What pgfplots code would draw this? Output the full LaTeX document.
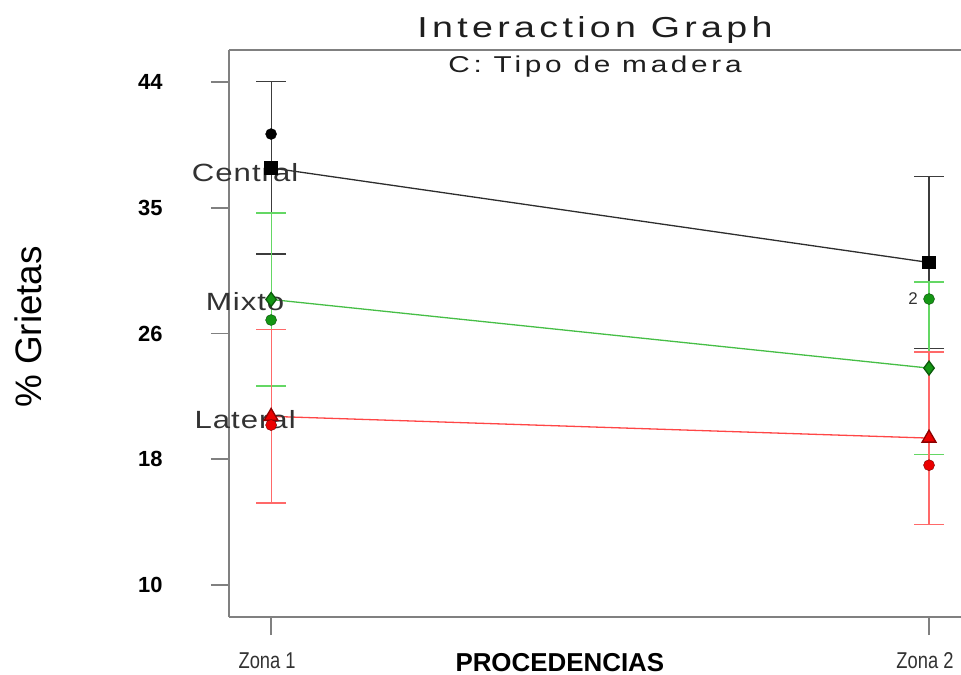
\documentclass[border=0pt]{standalone}
\usepackage{fontspec}
\setmainfont{Liberation Sans}
\newfontfamily\spacedfont[FakeStretch=1.25, LetterSpace=4]{Liberation Sans}
\newfontfamily\titlefont[FakeStretch=1.3, LetterSpace=15]{Liberation Sans}
\newfontfamily\subfont[FakeStretch=1.3, LetterSpace=16]{Liberation Sans}
\newfontfamily\narrowfont[FakeStretch=0.8]{Liberation Sans}
\usepackage{pgfplots}
\pgfplotsset{compat=1.18}

\definecolor{framegray}{RGB}{128,128,128}
\definecolor{cline}{RGB}{45,45,45}
\definecolor{cbar}{RGB}{60,60,60}
\definecolor{mline}{RGB}{70,190,70}
\definecolor{mbar}{RGB}{100,215,100}
\definecolor{mmark}{RGB}{20,150,20}
\definecolor{lline}{RGB}{255,70,70}
\definecolor{lbar}{RGB}{255,105,105}
\definecolor{lmark}{RGB}{235,0,0}
\definecolor{labgray}{RGB}{50,50,50}

% predicted means with LSD half-widths
\pgfplotstableread{
x y e
1 38.19 5.83
2 31.80 5.83
}\central
\pgfplotstableread{
x y e
1 29.30 5.85
2 24.66 5.83
}\mixto
\pgfplotstableread{
x y e
1 21.40 5.85
2 19.93 5.83
}\lateral

\begin{document}
\begin{tikzpicture}
\path[use as bounding box] (-229bp,-58bp) rectangle (732bp,617bp);
\begin{axis}[
  at={(0,0)}, anchor=south west,
  width=732bp, height=567bp, scale only axis,
  xmin=0.936, xmax=2.0486, ymin=7.84, ymax=46.16,
  clip=false,
  axis x line*=bottom, axis y line*=left,
  axis line style={framegray, line width=1.6bp},
  xtick={1,2}, xticklabels={Zona 1, Zona 2},
  ytick={10,18.5,27,35.5,44}, yticklabels={10,18,26,35,44},
  tick align=outside,
  major tick length=18bp,
  tick style={framegray, line width=1.6bp},
  /pgf/number format/assume math mode=true,
  yticklabel style={font=\fontsize{22}{24}\selectfont\bfseries, xshift=-45bp},
  xticklabel style={font=\narrowfont\fontsize{23}{25}\selectfont, text=labgray, yshift=-14bp, xshift=-4bp},
]
% error bars
\addplot[draw=none, forget plot, error bars/.cd, y dir=both, y explicit,
  error bar style={draw=cbar, line width=1.2bp},
  error mark options={draw=cbar, rotate=90, mark size=15bp, line width=1.4bp}]
  table[x=x, y=y, y error=e] {\central};
\addplot[draw=none, forget plot, error bars/.cd, y dir=both, y explicit,
  error bar style={draw=mbar, line width=1.2bp},
  error mark options={draw=mbar, rotate=90, mark size=15bp, line width=1.4bp}]
  table[x=x, y=y, y error=e] {\mixto};
\addplot[draw=none, forget plot, error bars/.cd, y dir=both, y explicit,
  error bar style={draw=lbar, line width=1.2bp},
  error mark options={draw=lbar, rotate=90, mark size=15bp, line width=1.4bp}]
  table[x=x, y=y, y error=e] {\lateral};

% interaction lines
\addplot[cline, line width=1.3bp, mark=square*, mark size=6bp,
  mark options={fill=black, draw=black}] table[x=x, y=y] {\central};
\addplot[mline, line width=1.3bp, mark=diamond*, mark size=7bp,
  mark options={fill=mmark, draw=mmark!60!black}] table[x=x, y=y] {\mixto};
\addplot[lline, line width=1.3bp, mark=triangle*, mark size=8bp,
  mark options={fill=lmark, draw=lmark!60!black}] table[x=x, y=y] {\lateral};

% design points
\addplot[only marks, mark=*, mark size=5.5bp, mark options={fill=black, draw=black}]
  coordinates {(1,40.48)};
\addplot[only marks, mark=*, mark size=5.5bp, mark options={fill=mmark, draw=mmark!50!black}]
  coordinates {(1,27.91) (2,29.33)};
\addplot[only marks, mark=*, mark size=5.5bp, mark options={fill=lmark, draw=lmark!50!black}]
  coordinates {(1,20.81) (2,18.10)};

% labels
\node[labgray, inner sep=0pt, anchor=east, font=\fontsize{17}{19}\selectfont]
  at (axis cs:2,29.33) [xshift=-11bp] {2};
\node[labgray, anchor=base, inner sep=0pt, font=\spacedfont\fontsize{25}{27}\selectfont]
  at (axis cs:0.9605,37.3) {Central};
\node[labgray, anchor=base, inner sep=0pt, font=\spacedfont\fontsize{25}{27}\selectfont]
  at (axis cs:0.9605,28.58) {Mixto};
\node[labgray, anchor=base, inner sep=0pt, font=\spacedfont\fontsize{25}{27}\selectfont]
  at (axis cs:0.9605,20.6) {Lateral};

% frame top, title and axis titles
\draw[framegray, line width=1.6bp] (rel axis cs:0,1) -- (rel axis cs:1,1);
\node[anchor=base, inner sep=0pt, text=labgray!60!black, font=\titlefont\fontsize{29}{31}\selectfont]
  at (rel axis cs:0.5,1) [yshift=12bp] {Interaction Graph};
\node[anchor=base, inner sep=0pt, text=labgray!60!black, font=\subfont\fontsize{23}{25}\selectfont]
  at (rel axis cs:0.5,1) [yshift=-23bp] {C: Tipo de madera};
\node[anchor=base, inner sep=0pt, font=\bfseries\fontsize{26}{28}\selectfont]
  at (rel axis cs:0.452,0) [yshift=-54bp] {PROCEDENCIAS};
\node[anchor=center, inner sep=0pt, rotate=90, font=\fontsize{37}{39}\selectfont]
  at (rel axis cs:-0.2746,0.5115) {\% Grietas};
\end{axis}
\end{tikzpicture}
\end{document}
